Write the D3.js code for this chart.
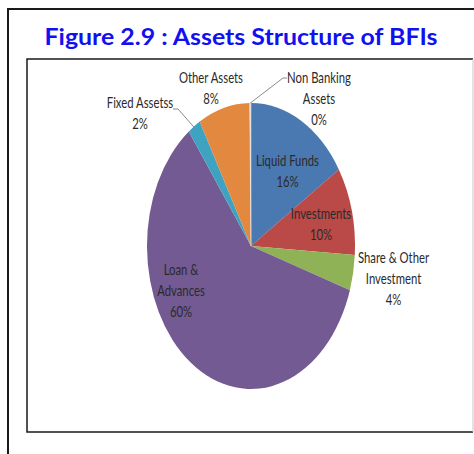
<!DOCTYPE html>
<html>
<head>
<meta charset="utf-8">
<script src="https://cdn.jsdelivr.net/npm/d3@7"></script>
<style>
	html, body { margin: 0; padding: 0; background: #fff; }
	svg { display: block; }
	.label { font-family: Lato, "Open Sans", sans-serif; font-size: 15.5px; fill: #2a2a2a; }
</style>
</head>
<body>
<svg id="chart" width="474" height="454"></svg>
<script>
// chart data
var categories = ["Liquid Funds", "Investments", "Share & Other Investment", "Loan & Advances", "Fixed Assetss", "Other Assets", "Non Banking Assets"];
var shares = [16, 10, 4, 59.8, 2, 8, 0.2];
var labelLines = [["Liquid Funds"], ["Investments"], ["Share & Other", "Investment"], ["Loan &", "Advances"], ["Fixed Assetss"], ["Other Assets"], ["Non Banking", "Assets"]];
var colors = ["#4a78b0", "#b94a48", "#90b256", "#735a92", "#3fa2c0", "#e2883f", "#dcdcdc"];

window.addEventListener("load", function () {
	var svg = d3.select("#chart");

	// outer frame, runs off the right and bottom edge
	svg.append("path")
		.attr("d", "M8,454 V9 H474")
		.attr("fill", "none")
		.attr("stroke", "#1a1a1a")
		.attr("stroke-width", 2);

	// title
	svg.append("text")
		.attr("x", 241)
		.attr("y", 45)
		.attr("text-anchor", "middle")
		.attr("textLength", 393)
		.attr("lengthAdjust", "spacingAndGlyphs")
		.style("font-family", "Lato, 'Open Sans', sans-serif")
		.style("font-weight", "bold")
		.style("font-size", "22px")
		.style("fill", "#1010f0")
		.text("Figure 2.9 : Assets Structure of BFIs");

	// inner chart box
	svg.append("path")
		.attr("d", "M473,59 H27 V432 H473")
		.attr("fill", "none")
		.attr("stroke", "#1a1a1a")
		.attr("stroke-width", 1.5);
	svg.append("line")
		.attr("x1", 473).attr("x2", 473)
		.attr("y1", 59).attr("y2", 432)
		.attr("stroke", "#c8c8c8")
		.attr("stroke-width", 1);

	// the picture is squeezed horizontally, so the pie is an ellipse
	var cx = 251, cy = 246, ry = 143, rx = 104;
	var squeeze = rx / ry;

	var pie = d3.pie().sort(null).value(function (d) { return d; });
	var arcs = pie(shares);
	var arc = d3.arc().innerRadius(0).outerRadius(ry);
	var pct = d3.format(".0%");

	var g = svg.append("g")
		.attr("transform", "translate(" + cx + "," + cy + ") scale(" + squeeze + ",1)");

	g.selectAll("path")
		.data(arcs)
		.enter().append("path")
		.attr("d", arc)
		.attr("fill", function (d, i) { return colors[i]; })
		.attr("stroke", function (d, i) { return i == 6 ? "#e8e8e8" : "none"; })
		.attr("stroke-width", 0.6);

	// label anchors (centre of first line, in page pixels)
	var labelPos = [[287.5, 166], [321, 219], [393.5, 263], [181, 275], [140, 108], [211, 83], [319, 83]];

	// leader lines for the slices labelled outside the pie
	var edgePoint = function (d, r) {
		var a = (d.startAngle + d.endAngle) / 2;
		return [cx + Math.sin(a) * r * squeeze, cy - Math.cos(a) * r];
	};
	var leaders = [
		{ index: 4, points: function (p) { return [p, [178, 109], [173, 109]]; } },
		{ index: 6, points: function (p) { return [p, [283, 78], [287, 78]]; } }
	];
	svg.selectAll("polyline.leader")
		.data(leaders)
		.enter().append("polyline")
		.attr("class", "leader")
		.attr("fill", "none")
		.attr("stroke", "#8a8a8a")
		.attr("stroke-width", 1)
		.attr("points", function (l) {
			return l.points(edgePoint(arcs[l.index], ry * (l.index == 4 ? 0.98 : 1))).join(" ");
		});

	arcs.forEach(function (d, i) {
		var lines = labelLines[i].concat([pct(shares[i] / 100)]);
		var t = svg.append("text")
			.attr("class", "label")
			.attr("text-anchor", "middle")
			.attr("transform", "translate(" + labelPos[i][0] + "," + labelPos[i][1] + ") scale(0.73,1)");
		lines.forEach(function (line, k) {
			t.append("tspan")
				.attr("x", 0)
				.attr("y", k * 20.8)
				.text(line);
		});
	});
});
</script>
</body>
</html>
